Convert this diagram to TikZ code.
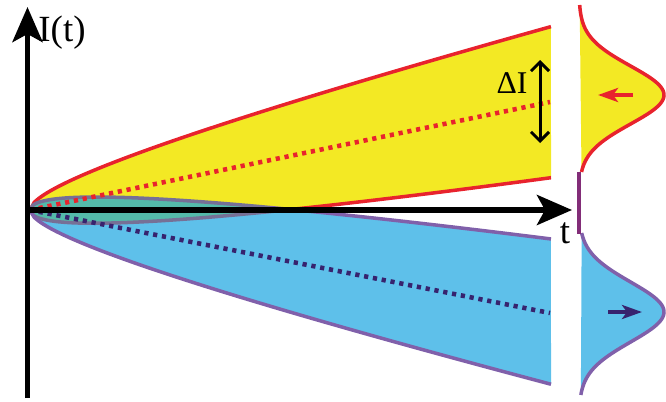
\documentclass[tikz,border=0pt]{standalone}
\usepackage{fontspec}
\setmainfont{Liberation Serif}
\usetikzlibrary{arrows.meta}

\definecolor{amarillo}{RGB}{243,233,36}
\definecolor{celeste}{RGB}{94,192,234}
\definecolor{verdoso}{RGB}{84,186,170}
\definecolor{rojo}{RGB}{232,35,45}
\definecolor{lila}{RGB}{128,96,170}
\definecolor{morado}{RGB}{55,35,110}
\definecolor{gris}{RGB}{118,112,150}
\definecolor{mezcla}{RGB}{130,45,120}

\tikzset{
  eje/.style={line width=3.2pt,-{Stealth[length=7mm,width=6mm,inset=1.6mm]}},
  borde/.style={line width=2pt},
  media/.style={line width=2.6pt,dash pattern=on 2.4pt off 2.7pt},
  flechita/.style={line width=2.2pt,-{Stealth[length=4mm,width=2.8mm,inset=1mm]}}
}

\begin{document}
\begin{tikzpicture}
\useasboundingbox (-0.6,-3.82) rectangle (12.72,4.2);

% Coordenadas
\coordinate (O) at (0,0);
\coordinate (ybot) at (-0.05,-3.76);
\coordinate (ytop) at (-0.05,4.06);
\coordinate (xini) at (-0.05,0);
\coordinate (xfin) at (10.84,0);
\coordinate (mroja) at (10.4,2.16);
\coordinate (mmorada) at (10.4,-2.06);
\coordinate (darr) at (10.2,3.0);
\coordinate (dabj) at (10.2,1.34);

% Zonas sombreadas
\fill[celeste] plot[domain=0:10.42,samples=120] (\x,{-0.195*\x+0.45*sqrt(\x)})
  -- plot[domain=10.42:0,samples=120] (\x,{-0.195*\x-0.45*sqrt(\x)}) -- cycle;
\fill[amarillo] plot[domain=0:10.42,samples=120] (\x,{0.207*\x+0.468*sqrt(\x)})
  -- plot[domain=10.42:0,samples=120] (\x,{0.207*\x-0.468*sqrt(\x)}) -- cycle;
\begin{scope}
  \clip plot[domain=0:10.42,samples=120] (\x,{0.207*\x+0.468*sqrt(\x)})
    -- plot[domain=10.42:0,samples=120] (\x,{0.207*\x-0.468*sqrt(\x)}) -- cycle;
  \fill[verdoso] plot[domain=0:10.42,samples=120] (\x,{-0.195*\x+0.45*sqrt(\x)})
    -- plot[domain=10.42:0,samples=120] (\x,{-0.195*\x-0.45*sqrt(\x)}) -- cycle;
\end{scope}

% Bordes
\draw[borde,rojo] plot[domain=0:10.42,samples=120] (\x,{0.207*\x+0.468*sqrt(\x)});
\draw[borde,rojo] plot[domain=5.1:10.42,samples=40] (\x,{0.207*\x-0.468*sqrt(\x)});
\draw[borde,gris] plot[domain=0:5.1,samples=80] (\x,{0.207*\x-0.468*sqrt(\x)});
\draw[borde,lila] plot[domain=0:10.42,samples=120] (\x,{-0.195*\x-0.45*sqrt(\x)});
\draw[borde,lila] plot[domain=4.8:10.42,samples=40] (\x,{-0.195*\x+0.45*sqrt(\x)});
\draw[borde,gris] plot[domain=0:4.8,samples=80] (\x,{-0.195*\x+0.45*sqrt(\x)});

% Medias
\draw[media,rojo] (O) -- (mroja);
\draw[media,morado] (O) -- (mmorada);

% Ejes
\draw[eje] (ybot) -- (ytop);
\draw[eje] (xini) -- (xfin);
\node (ylab) at (0.64,3.54) {\fontsize{21}{24}\selectfont I(t)};
\node (xlab) at (10.7,-0.46) {\fontsize{21}{24}\selectfont t};

% Anchura
\draw[line width=1.7pt,{Straight Barb[length=1.8mm,width=3.6mm]}-{Straight Barb[length=1.8mm,width=3.6mm]}] (darr) -- (dabj);
\node (dlab) at (9.64,2.54) {\fontsize{18}{22}\selectfont ΔI};

% Distribuciones
\fill[amarillo] plot[domain=4.1:0.76,samples=80] ({10.98+1.7*exp(-(\x-2.3)*(\x-2.3)/0.6728)},\x) -- cycle;
\fill[celeste] plot[domain=-0.46:-3.7,samples=80] ({10.98+1.7*exp(-(\x+2.04)*(\x+2.04)/0.72)},\x) -- cycle;
\draw[borde,rojo] plot[domain=4.1:0.76,samples=80] ({10.98+1.7*exp(-(\x-2.3)*(\x-2.3)/0.6728)},\x);
\draw[borde,lila] plot[domain=-0.46:-3.7,samples=80] ({10.98+1.7*exp(-(\x+2.04)*(\x+2.04)/0.72)},\x);
\coordinate (gm1) at (10.98,0.77);
\coordinate (gm2) at (10.98,-0.47);
\draw[borde,mezcla] (gm1) -- (gm2);

% Flechitas
\coordinate (f1a) at (12.06,2.3);
\coordinate (f1b) at (11.36,2.3);
\coordinate (f2a) at (11.56,-2.04);
\coordinate (f2b) at (12.24,-2.04);
\draw[flechita,rojo] (f1a) -- (f1b);
\draw[flechita,morado] (f2a) -- (f2b);

\end{tikzpicture}
\end{document}
